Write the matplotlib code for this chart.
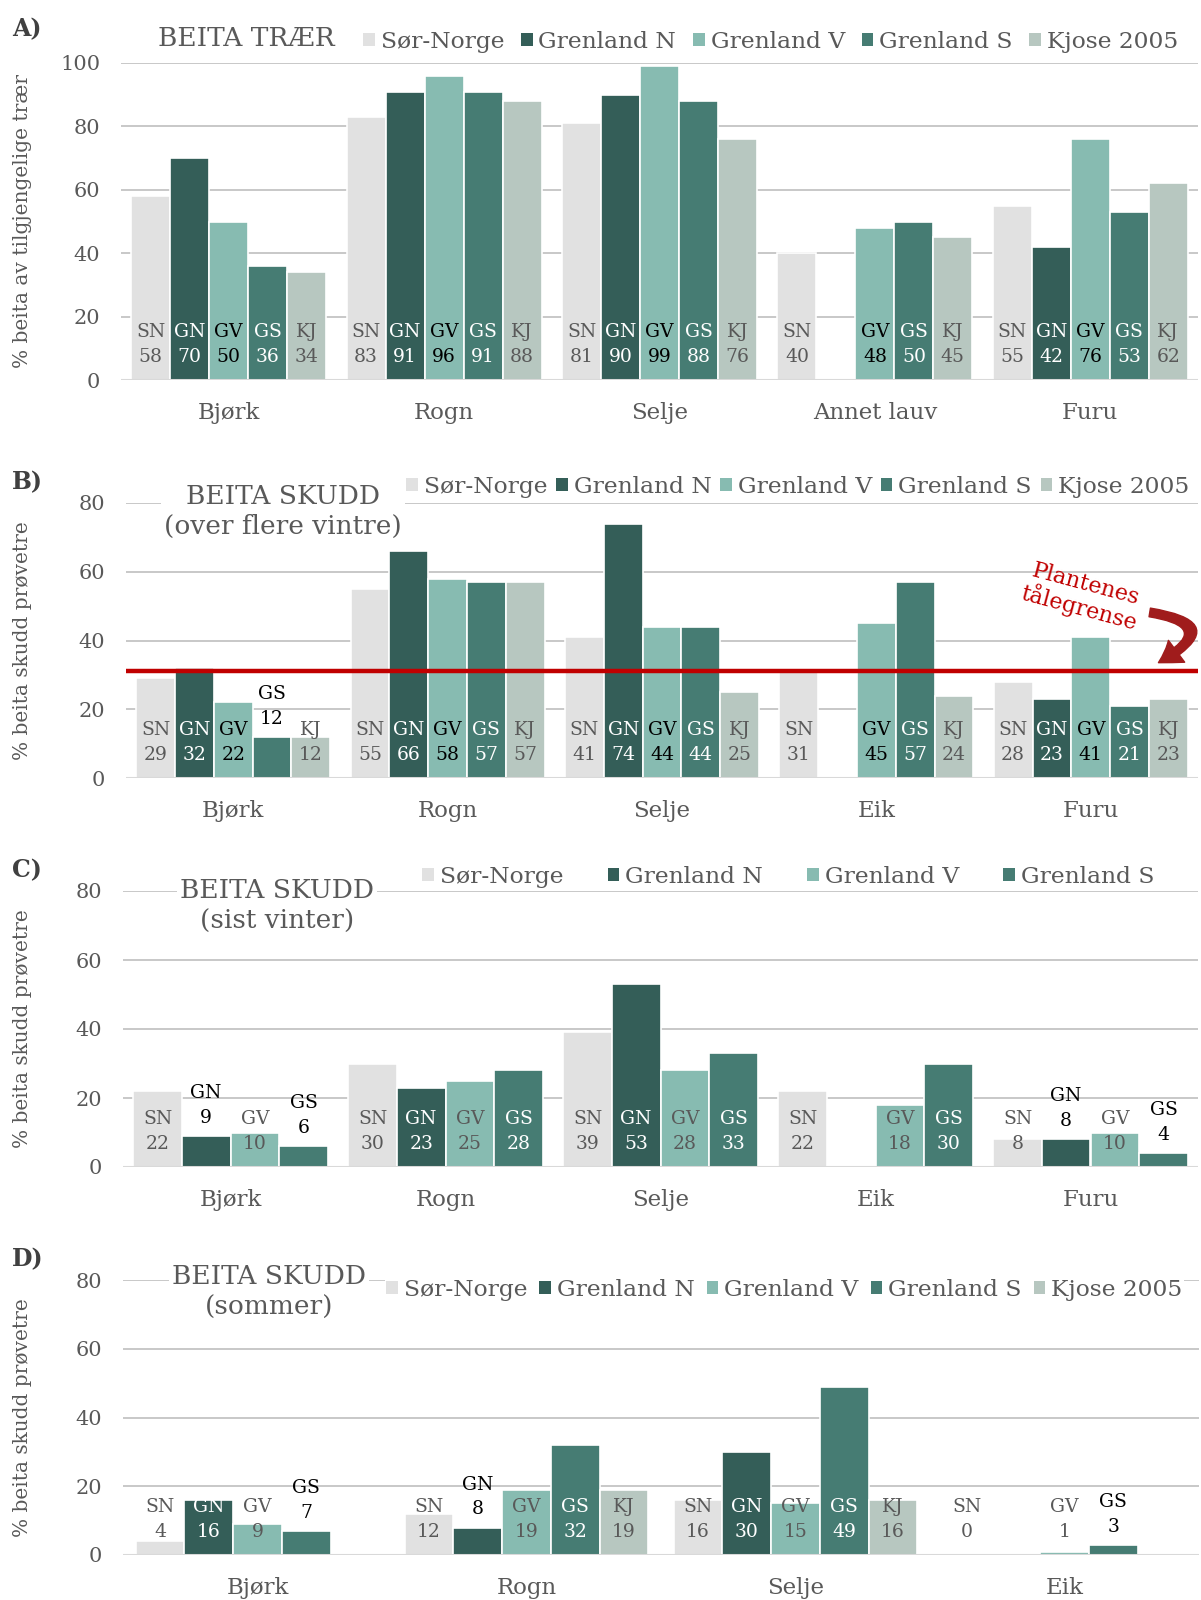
import numpy as np
import matplotlib.pyplot as plt
from matplotlib.patches import Patch, FancyArrowPatch

plt.rcParams['font.family'] = ['DejaVu Serif']

W, H = 1201, 1600
nan = np.nan

# Series shared by all panels
series_names = ['Sør-Norge', 'Grenland N', 'Grenland V', 'Grenland S', 'Kjose 2005']
series_codes = ['SN', 'GN', 'GV', 'GS', 'KJ']
series_colors = ['#E1E1E1', '#345E58', '#87BBB1', '#467C73', '#B7C7C0']

# A) BEITA TRÆR
cats_a = ['Bjørk', 'Rogn', 'Selje', 'Annet lauv', 'Furu']
sn_a = [58, 83, 81, 40, 55]
gn_a = [70, 91, 90, nan, 42]
gv_a = [50, 96, 99, 48, 76]
gs_a = [36, 91, 88, 50, 53]
kj_a = [34, 88, 76, 45, 62]

# B) BEITA SKUDD (over flere vintre)
cats_b = ['Bjørk', 'Rogn', 'Selje', 'Eik', 'Furu']
sn_b = [29, 55, 41, 31, 28]
gn_b = [32, 66, 74, nan, 23]
gv_b = [22, 58, 44, 45, 41]
gs_b = [12, 57, 44, 57, 21]
kj_b = [12, 57, 25, 24, 23]
limit_b = 31

# C) BEITA SKUDD (sist vinter)
cats_c = ['Bjørk', 'Rogn', 'Selje', 'Eik', 'Furu']
sn_c = [22, 30, 39, 22, 8]
gn_c = [9, 23, 53, nan, 8]
gv_c = [10, 25, 28, 18, 10]
gs_c = [6, 28, 33, 30, 4]

# D) BEITA SKUDD (sommer)
cats_d = ['Bjørk', 'Rogn', 'Selje', 'Eik']
sn_d = [4, 12, 16, 0]
gn_d = [16, 8, 30, nan]
gv_d = [9, 19, 15, 1]
gs_d = [7, 32, 49, 3]
kj_d = [nan, 19, 16, nan]

GRAY = '#595959'
GRID = '#C8C8C8'

fig = plt.figure(figsize=(W / 100, H / 100), dpi=100)


def px_axes(l, t, r, b):
    return fig.add_axes([l / W, 1 - b / H, (r - l) / W, (b - t) / H])


def panel(box, cats, values, ymax, ylabel, gv_color):
    ax = px_axes(*box)
    n = len(values)
    bw = 0.905 / n
    ax_h = box[3] - box[1]
    x = np.arange(len(cats))
    txt_cols = [GRAY, 'white', gv_color, 'white', GRAY]
    for j, vals in enumerate(values):
        xs = x + (j - (n - 1) / 2) * bw
        vals = np.array(vals, dtype=float)
        ax.bar(xs, vals, bw, color=series_colors[j], edgecolor='white',
               linewidth=1.2, zorder=2)
        for xi, v in zip(xs, vals):
            if np.isnan(v):
                continue
            col = txt_cols[j]
            y0, off = 0, 23
            # short dark bars get their label above the bar, in black
            if col == 'white' and v / ymax * ax_h < 45:
                col, y0, off = 'black', v, 18
            ax.annotate(f'{v:.0f}', (xi, y0), xytext=(0, off),
                        textcoords='offset pixels', ha='center', va='center',
                        fontsize=13.5, color=col, zorder=4)
            ax.annotate(series_codes[j], (xi, y0), xytext=(0, off + 25),
                        textcoords='offset pixels', ha='center', va='center',
                        fontsize=13.5, color=col, zorder=4)
    ax.set_xlim(-0.5, len(cats) - 0.5)
    ax.set_ylim(0, ymax)
    ax.set_yticks(np.arange(0, ymax + 1, 20))
    ax.grid(axis='y', color=GRID, linewidth=1.4, zorder=0)
    ax.axhline(0, color='#D9D9D9', linewidth=2.2, zorder=3)
    for s in ax.spines.values():
        s.set_visible(False)
    ax.set_xticks(x)
    ax.set_xticklabels(cats)
    ax.tick_params(axis='x', length=0, pad=16, labelsize=16.5, labelcolor=GRAY)
    ax.tick_params(axis='y', length=0, pad=15, labelsize=15, labelcolor=GRAY)
    ax.set_ylabel(ylabel, fontsize=14.5, color=GRAY, va='center')
    ax.yaxis.set_label_coords((23 - box[0]) / (box[2] - box[0]), 0.5)
    return ax


def legend(n, x, y, spacing, frame):
    handles = [Patch(facecolor=series_colors[j], edgecolor='none') for j in range(n)]
    leg = fig.legend(handles, series_names[:n], loc='center left',
                     bbox_to_anchor=(x / W, 1 - y / H), ncol=n, fontsize=16.8,
                     handlelength=0.5, handleheight=0.5, handletextpad=0.25,
                     columnspacing=spacing, borderpad=0.05, borderaxespad=0,
                     frameon=frame, fancybox=False)
    for t in leg.get_texts():
        t.set_color(GRAY)
    if frame:
        leg.get_frame().set_facecolor('white')
        leg.get_frame().set_edgecolor('none')
        leg.get_frame().set_alpha(1)
    return leg


def title(text, x, y, ha='center'):
    fig.text(x / W, 1 - y / H, text, ha=ha, va='center', fontsize=19,
             color=GRAY, linespacing=1.25,
             bbox=dict(facecolor='white', edgecolor='none', pad=2))


def letter(text, y):
    fig.text(12 / W, 1 - y / H, text, ha='left', va='center', fontsize=17,
             fontweight='bold', color='#404040')


# Panel A
panel((121, 63, 1198, 380), cats_a, [sn_a, gn_a, gv_a, gs_a, kj_a], 100,
      '% beita av tilgjengelige trær', 'black')
title('BEITA TRÆR', 158, 39, ha='left')
legend(5, 362, 42, 0.72, False)
letter('A)', 29)

# Panel B
ax_b = panel((126, 503, 1198, 778), cats_b, [sn_b, gn_b, gv_b, gs_b, kj_b], 80,
             '% beita skudd prøvetre', 'black')
ax_b.axhline(limit_b, color='#C00000', linewidth=3.2, zorder=5)
title('BEITA SKUDD\n(over flere vintre)', 283, 511)
legend(5, 405, 487, 0.38, False)
letter('B)', 482)
fig.text(1082 / W, 1 - 597 / H, 'Plantenes\ntålegrense', ha='center', va='center',
         rotation=-15, fontsize=16, color='#C00000', linespacing=1.0)
arrow = FancyArrowPatch((1147 / W, 1 - 612 / H), (1156 / W, 1 - 664 / H),
                        transform=fig.transFigure,
                        connectionstyle='arc3,rad=-1.5',
                        arrowstyle='simple,head_length=1.1,head_width=1.4,tail_width=0.45',
                        mutation_scale=14, color='#A01C1C', zorder=6)
fig.patches.append(arrow)

# Panel C
panel((123, 891, 1198, 1167), cats_c, [sn_c, gn_c, gv_c, gs_c], 80,
      '% beita skudd prøvetre', GRAY)
title('BEITA SKUDD\n(sist vinter)', 277, 906)
legend(4, 421, 877, 1.9, False)
letter('C)', 870)

# Panel D
panel((123, 1280, 1199, 1555), cats_d, [sn_d, gn_d, gv_d, gs_d, kj_d], 80,
      '% beita skudd prøvetre', GRAY)
title('BEITA SKUDD\n(sommer)', 269, 1292)
legend(5, 385, 1290, 0.52, True)
letter('D)', 1259)

fig.savefig('out.png', dpi=100)
